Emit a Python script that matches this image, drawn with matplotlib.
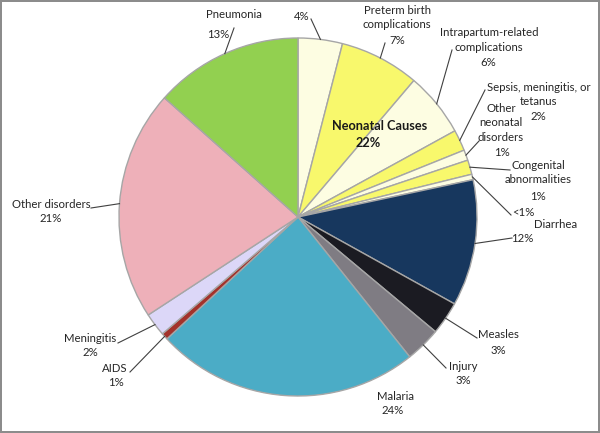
import numpy as np
import matplotlib.pyplot as plt

# under-5 deaths by cause, clockwise from 12 o'clock
causes = ['', 'Preterm birth\ncomplications', 'Intrapartum-related\ncomplications',
          'Sepsis, meningitis, or\ntetanus', 'Other\nneonatal\ndisorders',
          'Congenital\nabnormalities', '', 'Diarrhea', 'Measles', 'Injury',
          'Malaria', 'AIDS', 'Meningitis', 'Other disorders', 'Pneumonia']
shares = [4.0, 7.2, 5.8, 1.9, 0.95, 1.3, 0.5, 11.4, 3.0, 3.2, 23.8, 0.6, 2.1, 20.8, 13.4]
pct_text = ['4%', '7%', '6%', '2%', '1%', '1%', '<1%', '12%', '3%', '3%', '24%', '1%', '2%', '21%', '13%']
n_neonatal = 7

colors = ['#fdfde2', '#f8f86c', '#fdfde2', '#f8f86c', '#fdfde2', '#f8f86c', '#fdfde2',
          '#17375e', '#1b1b22', '#7f7c83', '#4bacc6', '#a3322b', '#dcd7f8', '#eeb0b9', '#92d050']

# label placement in pixels (origin top-left): name block centre, percent centre, leader start
name_pos = [None, (397, 17.5), (489, 40), (539, 94.5), (501, 123), (538, 172.5), None,
            (556, 225), (498, 335), (463, 366), (395, 397), (115, 369), (90, 338), (51, 205), (234, 15)]
pct_pos = [(302, 17), (397, 40), (488, 62), (538, 117), (502, 153), (538, 196), (523, 212),
           (522, 238), (498, 350), (463, 380), (393, 411), (116, 383), (90, 353), (51, 219), (218, 35)]
leader_start = [(311, 19), (385, 43), (452, 50), (485, 90), (479, 141), (510, 170), (511, 215),
                (512, 238), (477, 338), (446, 368), None, (130, 372), (118, 343), (91, 208), (234, 28)]

W, H = 600, 433
cx, cy, R = 298, 217, 179

fig = plt.figure(figsize=(6, 4.33), dpi=100, linewidth=1.5, edgecolor='#8c8c8c')
ax = fig.add_axes([0, 0, 1, 1])
plt.rcParams['font.family'] = ['Lato', 'DejaVu Sans']

wedges, _ = ax.pie(shares, colors=colors, startangle=-90, counterclock=True,
                   center=(cx, cy), radius=R,
                   wedgeprops=dict(edgecolor='#a6a6a6', linewidth=1.0))
ax.set_xlim(0, W)
ax.set_ylim(H, 0)
ax.set_aspect('equal')
ax.axis('off')

fs = 8.2
for w, name, pct, npos, ppos, start in zip(wedges, causes, pct_text, name_pos, pct_pos, leader_start):
    mid = np.deg2rad((w.theta1 + w.theta2) / 2)
    ex, ey = cx + R * np.cos(mid), cy + R * np.sin(mid)
    if npos is not None:
        ax.text(npos[0], npos[1], name, ha='center', va='center', fontsize=fs,
                color='#262626', linespacing=1.38)
    ax.text(ppos[0], ppos[1], pct, ha='center', va='center', fontsize=fs, color='#262626')
    if start is not None:
        ax.plot([start[0], ex], [start[1], ey], color='#404040', lw=0.8)

neonatal_total = sum(shares[:n_neonatal])
ax.text(380, 126, 'Neonatal Causes', ha='center', va='center',
        fontsize=9.2, fontweight='bold', color='#1a1a1a')
ax.text(368, 143, '%d%%' % round(neonatal_total), ha='center', va='center',
        fontsize=9.2, fontweight='bold', color='#1a1a1a')

fig.savefig('out.png', dpi=100)
